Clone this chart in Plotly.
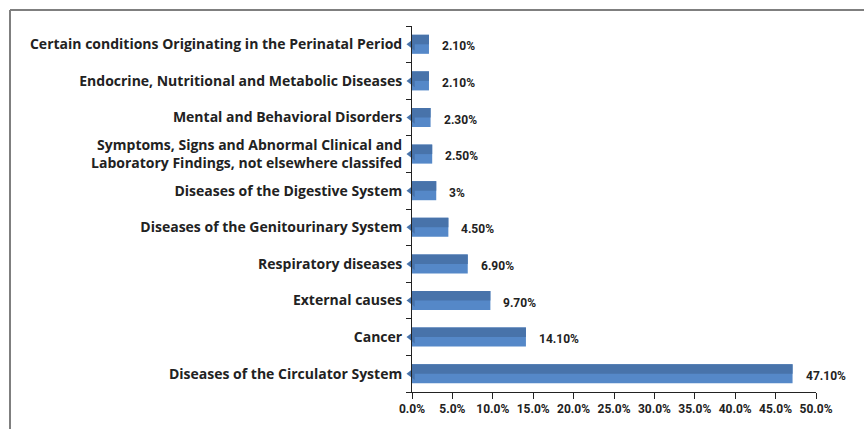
import plotly.graph_objects as go

# Causes of death, listed bottom-to-top
categories = [
    "Diseases of the Circulator System",
    "Cancer",
    "External causes",
    "Respiratory diseases",
    "Diseases of the Genitourinary System",
    "Diseases of the Digestive System",
    "Symptoms, Signs and Abnormal Clinical and<br>Laboratory Findings, not elsewhere classifed",
    "Mental and Behavioral Disorders",
    "Endocrine, Nutritional and Metabolic Diseases",
    "Certain conditions Originating in the Perinatal Period",
]
shares = [47.1, 14.1, 9.7, 6.9, 4.5, 3.0, 2.5, 2.3, 2.1, 2.1]
share_labels = ["47.10%", "14.10%", "9.70%", "6.90%", "4.50%", "3%", "2.50%", "2.30%", "2.10%", "2.10%"]
x_ticks = [0, 5, 10, 15, 20, 25, 30, 35, 40, 45, 50]
x_tick_text = ["0.0%", "5.0%", "10.0%", "15.0%", "20.0%", "25.0%", "30.0%", "35.0%", "40.0%", "45.0%", "50.0%"]

LIGHT = "#5588c8"
DARK = "#4873aa"
BAR_W = 0.52

fig = go.Figure()

# lower (lighter) face of each bar
fig.add_trace(go.Bar(
    y=categories, x=shares, orientation="h",
    width=BAR_W, marker=dict(color=LIGHT, line=dict(width=0)),
    hoverinfo="skip", showlegend=False,
))
# upper (darker) face of each bar
fig.add_trace(go.Bar(
    y=categories, x=shares, orientation="h",
    width=BAR_W / 2, offset=0, marker=dict(color=DARK, line=dict(width=0)),
    hoverinfo="skip", showlegend=False,
))
# pointed left end
fig.add_trace(go.Scatter(
    y=categories, x=[0] * len(categories), mode="markers",
    marker=dict(symbol="triangle-left", size=11, color=DARK, line=dict(width=0)),
    hoverinfo="skip", showlegend=False, cliponaxis=False,
))

for cat, v, lab in zip(categories, shares, share_labels):
    fig.add_annotation(
        x=v, y=cat, text=lab, showarrow=False, xanchor="left", xshift=11, yshift=-2,
        font=dict(family="Roboto", size=12, color="#222222", weight="bold"),
    )

# outer frame lines (left and top)
plot_left, plot_w = 412, 404
plot_top, plot_h = 26, 366
fx = (10 - plot_left) / plot_w
fy = 1 + (plot_top - 10) / plot_h
fig.add_shape(type="line", xref="paper", yref="paper", x0=fx, x1=fx, y0=fy, y1=-2,
              line=dict(color="#7f7f7f", width=2))
fig.add_shape(type="line", xref="paper", yref="paper", x0=fx, x1=3, y0=fy, y1=fy,
              line=dict(color="#7f7f7f", width=2))

fig.update_layout(
    width=864, height=429,
    margin=dict(l=plot_left, r=864 - plot_left - plot_w, t=plot_top, b=429 - plot_top - plot_h),
    paper_bgcolor="white", plot_bgcolor="white",
    barmode="overlay",
    xaxis=dict(
        range=[0, 50], tickmode="array", tickvals=x_ticks, ticktext=x_tick_text,
        showgrid=False, zeroline=False, showline=True, linecolor="#222222", linewidth=1,
        ticks="outside", ticklen=6, tickcolor="#222222",
        tickfont=dict(family="Roboto", size=12, color="#222222", weight="bold"),
    ),
    yaxis=dict(
        type="category", categoryorder="array", categoryarray=categories,
        range=[-0.5, len(categories) - 0.5], autorange=False,
        showgrid=False, zeroline=False, showline=True, linecolor="#222222", linewidth=1,
        ticks="outside", ticklen=5, tickcolor="#222222", tickson="boundaries",
        ticklabelstandoff=6,
        tickfont=dict(family="Open Sans", size=14, color="#222222", weight="bold"),
    ),
)

fig.write_html("out.html")
